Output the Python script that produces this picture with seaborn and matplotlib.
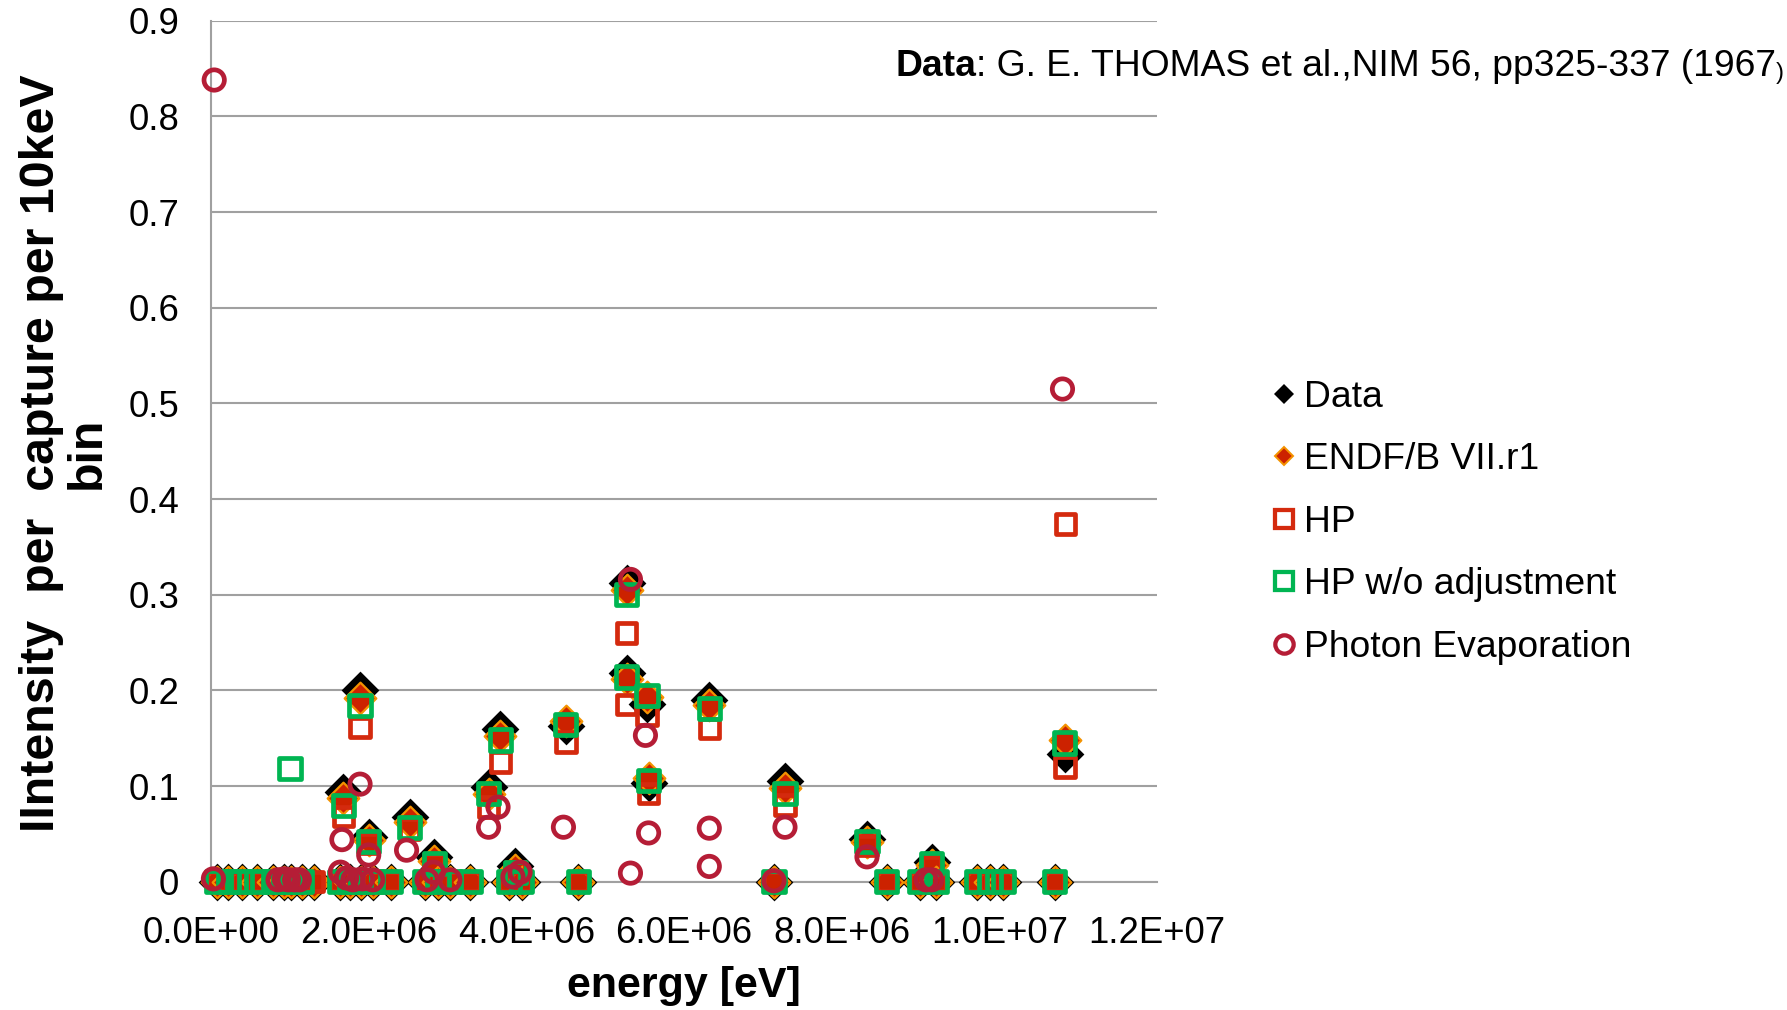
import numpy as np
import pandas as pd
import matplotlib
matplotlib.use("Agg")
import matplotlib.pyplot as plt
from matplotlib.lines import Line2D
import seaborn as sns

# ---- gamma lines (energy in MeV) shared by the first four series ----
energy_mev = [0.07, 0.22, 0.39, 0.58, 0.79, 0.92, 1.00, 1.02, 1.15, 1.30,
              1.63, 1.68, 1.76, 1.89, 1.90, 2.00, 2.05, 2.28, 2.52, 2.71,
              2.83, 2.88, 3.03, 3.29, 3.52, 3.67, 3.78, 3.86, 3.94, 4.50,
              4.66, 5.27, 5.27, 5.53, 5.55, 6.32, 7.14, 7.28, 8.32, 8.57,
              8.99, 9.14, 9.20, 9.71, 9.88, 10.05, 10.70, 10.83, 10.84]

nan = np.nan
data_int = [0, 0, 0, 0, 0, 0, nan, 0, 0, 0,
            0, 0.094, 0, 0.200, 0, 0.047, 0, 0, 0.068, 0,
            0.026, 0, 0, 0, 0.099, 0.160, 0, 0.016, 0, 0.163,
            0, 0.312, 0.218, 0.186, 0.103, 0.190, 0, 0.105, 0.045, 0,
            0, 0.021, 0, 0, 0, 0, 0, 0.134, nan]
endf_int = [0, 0, 0, 0, 0, 0, nan, 0, 0, 0,
            0, 0.088, 0, 0.192, 0, 0.044, 0, 0, 0.062, 0,
            0.022, 0, 0, 0, 0.092, 0.152, 0, 0.012, 0, 0.168,
            0, 0.305, 0.212, 0.193, 0.108, 0.185, 0, 0.098, 0.042, 0,
            0, 0.018, 0, 0, 0, 0, 0, 0.148, nan]
hp_int = [0, 0, 0, 0, 0, 0, nan, 0, 0, 0,
          0, 0.068, 0, 0.161, 0, 0.040, 0, 0, 0.055, 0,
          0.019, 0, 0, 0, 0.078, 0.125, 0, 0.010, 0, 0.146,
          0, 0.260, 0.185, 0.174, 0.092, 0.160, 0, 0.080, 0.038, 0,
          0, 0.016, 0, 0, 0, 0, 0, 0.120, 0.374]
hp_noadj_int = [0, 0, 0, 0, 0, 0, 0.118, 0, 0, nan,
                0, 0.080, 0, 0.184, 0, 0.042, 0, 0, 0.057, 0,
                0.019, 0, 0, 0, 0.092, 0.148, 0, 0.010, 0, 0.164,
                0, 0.300, 0.214, 0.195, 0.106, 0.181, 0, 0.092, 0.042, 0,
                0, 0.019, 0, 0, 0, 0, 0, 0.145, nan]

# ---- Photon Evaporation lines ----
pe_energy_mev = [0.04, 0.03, 0.85, 0.93, 0.98, 1.06, 1.12, 1.66, 1.64, 1.72,
                 1.80, 1.89, 1.92, 2.00, 2.05, 2.48, 2.74, 2.82, 3.03, 3.52,
                 3.64, 3.83, 3.92, 4.47, 5.32, 5.32, 5.51, 5.55, 6.32, 6.32,
                 7.14, 7.28, 8.32, 9.07, 9.14, 10.80]
pe_int = [0.838, 0.003, 0.002, 0.003, 0.002, 0.002, 0.002, 0.044, 0.010, 0.004,
          0.002, 0.102, 0.003, 0.028, 0.002, 0.033, 0.002, 0.010, 0.002, 0.057,
          0.078, 0.005, 0.010, 0.057, 0.316, 0.009, 0.153, 0.051, 0.056, 0.016,
          0.001, 0.057, 0.026, 0.002, 0.002, 0.515]

series_names = ["Data", "ENDF/B VII.r1", "HP", "HP w/o adjustment",
                "Photon Evaporation"]
x_ticks = [0, 2e6, 4e6, 6e6, 8e6, 1e7, 1.2e7]
x_tick_labels = ["0.0E+00", "2.0E+06", "4.0E+06", "6.0E+06", "8.0E+06",
                 "1.0E+07", "1.2E+07"]
y_ticks = [0, 0.1, 0.2, 0.3, 0.4, 0.5, 0.6, 0.7, 0.8, 0.9]
y_tick_labels = ["0", "0.1", "0.2", "0.3", "0.4", "0.5", "0.6", "0.7", "0.8", "0.9"]

lines = pd.DataFrame({
    "energy": np.array(energy_mev) * 1e6,
    series_names[0]: data_int,
    series_names[1]: endf_int,
    series_names[2]: hp_int,
    series_names[3]: hp_noadj_int,
})
pe = pd.DataFrame({"energy": np.array(pe_energy_mev) * 1e6,
                   series_names[4]: pe_int})

sns.set_theme(style="white")
plt.rcParams["font.family"] = ["Liberation Sans", "DejaVu Sans"]
plt.rcParams["text.color"] = "black"
plt.rcParams["axes.labelcolor"] = "black"
plt.rcParams["xtick.color"] = "black"
plt.rcParams["ytick.color"] = "black"

fig = plt.figure(figsize=(17.87, 10.10), dpi=100)
ax = fig.add_axes([0.1181, 0.1270, 0.5294, 0.8525])

GRID = "#A0A0A0"

# marker styles: (marker, scatter size, face, edge, edge width, legend size)
styles = [
    ("D", 370, "black", "black", 0.0, 9.8),
    ("D", 260, "#CC2200", "#F39200", 1.6, 9.0),
    ("s", 195, "none", "#D42A0E", 3.4, 13.2),
    ("s", 235, "none", "#00B552", 3.4, 13.2),
    ("o", 215, "none", "#B51D36", 3.4, 13.2),
]
frames = [lines, lines, lines, lines, pe]

handles = []
for i, (name, frame) in enumerate(zip(series_names, frames)):
    marker, s, fc, ec, lw, ms = styles[i]
    sns.scatterplot(data=frame, x="energy", y=name, ax=ax, marker=marker,
                    s=s, color=ec, clip_on=False, zorder=3 + i)
    coll = ax.collections[-1]
    coll.set_facecolor(fc)
    coll.set_edgecolor(ec)
    coll.set_linewidth(lw)
    handles.append(Line2D([], [], linestyle="none", marker=marker,
                          markersize=ms, markerfacecolor=fc,
                          markeredgecolor=ec,
                          markeredgewidth=(lw if lw > 0 else 0) * 0.9,
                          label=name))

ax.set_xlim(0, 1.2e7)
ax.set_ylim(0, 0.9)
ax.set_xticks(x_ticks)
ax.set_xticklabels(x_tick_labels)
ax.set_yticks(y_ticks)
ax.set_yticklabels(y_tick_labels)
ax.tick_params(axis="x", length=0, pad=24.5, labelsize=26.3, colors="black")
ax.tick_params(axis="y", length=0, pad=23, labelsize=26.3, colors="black")

ax.set_axisbelow(True)
ax.yaxis.grid(True, color=GRID, linewidth=1.5)
ax.xaxis.grid(False)
for side in ["top", "right"]:
    ax.spines[side].set_visible(False)
for side in ["left", "bottom"]:
    ax.spines[side].set_color(GRID)
    ax.spines[side].set_linewidth(1.5)

ax.set_xlabel("energy [eV]", fontsize=31, fontweight="bold", color="black",
              va="center")
ax.xaxis.set_label_coords(0.5, -0.121)
ax.set_ylabel("IIntensity  per  capture per 10keV\nbin", fontsize=34.8,
              fontweight="bold", color="black", ha="center", va="center",
              multialignment="center", linespacing=1.05)
ax.yaxis.set_label_coords(-0.155, 0.498)

leg = ax.legend(handles=handles, loc="center left",
                bbox_to_anchor=(1272 / 1787, 0.483),
                bbox_transform=fig.transFigure, frameon=False, fontsize=26.8,
                handlelength=0.65, handletextpad=0.22, labelspacing=0.74,
                borderpad=0, borderaxespad=0)
for txt in leg.get_texts():
    txt.set_color("black")

t1 = fig.text(895 / 1787, 1 - 76 / 1010, "Data", fontsize=26.8,
              fontweight="bold", va="baseline", ha="left")
t2 = ax.annotate(": G. E. THOMAS et al.,NIM 56, pp325-337 (1967",
                 xy=(1, 0), xycoords=t1, va="bottom", ha="left",
                 fontsize=26.8, annotation_clip=False)
ax.annotate(")", xy=(1, 0), xycoords=t2, va="bottom", ha="left",
            fontsize=17, annotation_clip=False)

fig.savefig("out.png", dpi=100)
